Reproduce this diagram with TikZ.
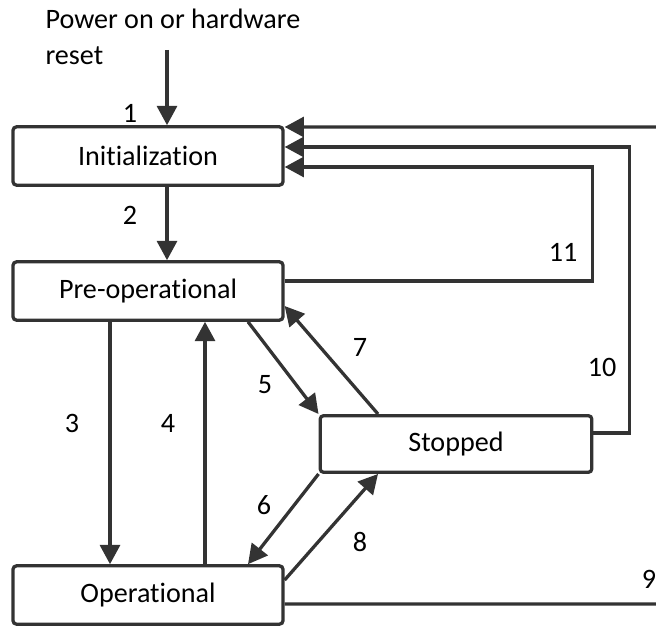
\documentclass[tikz,border=0pt]{standalone}
\usepackage{fontspec}
\setmainfont{Carlito}[Ligatures=NoCommon]
\usetikzlibrary{arrows.meta}

\begin{document}
\begin{tikzpicture}[x=0.03cm, y=-0.03cm, line width=2.8pt, draw=black!80,
    >={Triangle[length=0.58cm, width=0.6cm]},
    state/.style={draw=black!80, rounded corners=3pt, minimum width=8.1cm, minimum height=1.75cm, font=\fontsize{24}{31}\selectfont},
    num/.style={font=\fontsize{24}{31}\selectfont}]
    \useasboundingbox (0,0) rectangle (656,626);

    % States
    \node[state] (init) at (148,156) {Initialization};
    \node[state] (preop) at (148,291) {Pre-operational};
    \node[state] (oper) at (148,595) {Operational};
    \node[state, minimum width=8.15cm, minimum height=1.7cm] (stopped) at (456,444) {Stopped};

    % Power on
    \node[num, align=left, anchor=west] (pwr) at (40,37) {Power on or hardware\\reset};
    \coordinate (pwrtop) at (167,50);
    \draw[->] (pwrtop) -- (pwrtop |- init.north);
    \draw[->] (init.south -| pwrtop) -- (preop.north -| pwrtop);

    % Pre-operational <-> Operational
    \draw[->] ([xshift=-1.14cm]preop.south) -- ([xshift=-1.14cm]oper.north);
    \draw[->] ([xshift=1.71cm]oper.north) -- ([xshift=1.71cm]preop.south);

    % Stopped
    \draw[->] ([xshift=3cm]preop.south) -- (stopped.north west);
    \draw[->] ([xshift=-2.34cm]stopped.north) -- ([yshift=-0.45cm]preop.east);
    \draw[->] (stopped.south west) -- ([xshift=3cm]oper.north);
    \draw[->] ([yshift=0.45cm]oper.east) -- ([xshift=-2.34cm]stopped.south);

    % Back to Initialization
    \coordinate (rimtop) at (670,127);
    \coordinate (rimbot) at (670,604);
    \draw ([yshift=-0.27cm]oper.east) -- (rimbot);
    \draw[->] (rimtop) -- ([yshift=0.87cm]init.east);
    \draw[->] ([yshift=0.33cm]stopped.east) -- ++(36,0) |- ([yshift=0.27cm]init.east);
    \draw[->] ([yshift=0.3cm]preop.east) -- ++(308,0) |- ([yshift=-0.33cm]init.east);

    % Numbers
    \node[num] (n1) at (130,113) {1};
    \node[num] (n2) at (130,215) {2};
    \node[num] (n3) at (72,423) {3};
    \node[num] (n4) at (168,423) {4};
    \node[num] (n5) at (265,385) {5};
    \node[num] (n6) at (264,505) {6};
    \node[num] (n7) at (360,347) {7};
    \node[num] (n8) at (360,542) {8};
    \node[num] (n9) at (649,579) {9};
    \node[num] (n10) at (602,367) {10};
    \node[num] (n11) at (563,252) {11};
\end{tikzpicture}
\end{document}
